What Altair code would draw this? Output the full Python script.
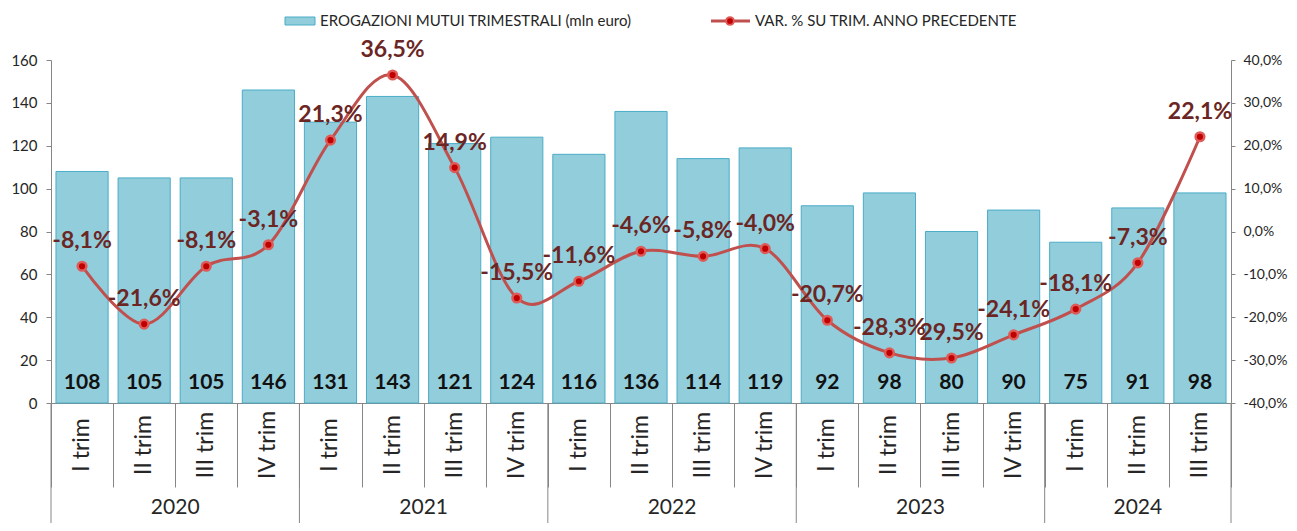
import altair as alt
import pandas as pd

# ---------------- data ----------------
years = ["2020"] * 4 + ["2021"] * 4 + ["2022"] * 4 + ["2023"] * 4 + ["2024"] * 3
quarters = ["I trim", "II trim", "III trim", "IV trim"] * 4 + ["I trim", "II trim", "III trim"]
erogazioni = [108, 105, 105, 146, 131, 143, 121, 124, 116, 136, 114, 119, 92, 98, 80, 90, 75, 91, 98]
var_pct = [-8.1, -21.6, -8.1, -3.1, 21.3, 36.5, 14.9, -15.5, -11.6, -4.6, -5.8, -4.0,
           -20.7, -28.3, -29.5, -24.1, -18.1, -7.3, 22.1]
pct_labels = ["-8,1%", "-21,6%", "-8,1%", "-3,1%", "21,3%", "36,5%", "14,9%", "-15,5%",
              "-11,6%", "-4,6%", "-5,8%", "-4,0%", "-20,7%", "-28,3%", "29,5%", "-24,1%",
              "-18,1%", "-7,3%", "22,1%"]
left_ticks = [0, 20, 40, 60, 80, 100, 120, 140, 160]
right_ticks = [-40, -30, -20, -10, 0, 10, 20, 30, 40]
legend_bar = "EROGAZIONI MUTUI TRIMESTRALI (mln euro)"
legend_line = "VAR. % SU TRIM. ANNO PRECEDENTE"

# ---------------- tables ----------------
n = len(quarters)
df = pd.DataFrame({
    "i": list(range(n)),
    "quarter": quarters,
    "year": years,
    "erog": erogazioni,
    "pct": var_pct,
    "pct_label": pct_labels,
})

year_rows = []
for y in dict.fromkeys(years):
    idx = [k for k, v in enumerate(years) if v == y]
    year_rows.append({"year": y, "start": idx[0], "end": idx[-1] + 1})
ydf = pd.DataFrame(year_rows)
bdf = pd.DataFrame({"b": list(ydf["start"]) + [n]})

# ---------------- style ----------------
W, H = 1180, 343
FONT = "Lato"
GREY = "#868686"
TXT = "#262626"
BAR_FILL = "#92CDDC"
BAR_STROKE = "#4BACC6"
LINE = "#C0504D"
PCT_TXT = "#6B2624"

xs = alt.Scale(domain=[0, n], nice=False, zero=False)
x_axis = alt.Axis(values=list(range(n + 1)), tickSize=84, labels=False, title=None, grid=False,
                  domainColor=GREY, tickColor=GREY, domainWidth=1, tickWidth=1)
left_scale = alt.Scale(domain=[0, 160], nice=False, zero=True)
left_axis = alt.Axis(values=left_ticks, orient="left", title=None, grid=False, tickSize=5,
                     labelPadding=9, domainColor=GREY, tickColor=GREY, labelColor=TXT,
                     labelFont=FONT, labelFontSize=15)
right_scale = alt.Scale(domain=[-40, 40], nice=False, zero=False)
right_axis = alt.Axis(values=right_ticks, orient="right", title=None, grid=False, tickSize=4,
                      labelPadding=8, domainColor=GREY, tickColor=GREY, labelColor=TXT,
                      labelFont=FONT, labelFontSize=14,
                      labelExpr="replace(replace(format(datum.value, '.1f'), '.', ','), '\u2212', '-') + '%'")

base = alt.Chart(df).transform_calculate(
    xc="datum.i + 0.5", x0="datum.i + 0.08", x1="datum.i + 0.92", zero="0"
)

bars = base.mark_bar(fill=BAR_FILL, stroke=BAR_STROKE, strokeWidth=1).encode(
    x=alt.X("x0:Q", scale=xs, axis=x_axis),
    x2="x1:Q",
    y=alt.Y("erog:Q", scale=left_scale, axis=left_axis),
    y2="zero:Q",
)
bar_text = base.mark_text(font=FONT, fontSize=21, fontWeight="bold", color="#111111",
                          baseline="middle", align="center").encode(
    x=alt.X("xc:Q", scale=xs, axis=x_axis),
    y=alt.value(H - 20),
    text="erog:Q",
)
left = alt.layer(bars, bar_text)

line = base.mark_line(color=LINE, strokeWidth=3, interpolate="cardinal").encode(
    x=alt.X("xc:Q", scale=xs, axis=x_axis),
    y=alt.Y("pct:Q", scale=right_scale, axis=right_axis),
)
pts = base.mark_circle(size=75, color="#C00000", opacity=1, stroke="#DE5B57", strokeWidth=2.5).encode(
    x=alt.X("xc:Q", scale=xs, axis=x_axis),
    y=alt.Y("pct:Q", scale=right_scale, axis=right_axis),
)
pct_text = base.mark_text(font=FONT, fontSize=23, fontWeight="bold", color=PCT_TXT,
                          baseline="middle", align="center", dy=-25).encode(
    x=alt.X("xc:Q", scale=xs, axis=x_axis),
    y=alt.Y("pct:Q", scale=right_scale, axis=right_axis),
    text="pct_label:N",
)
right = alt.layer(line, pts, pct_text)

# category labels below the axis
q_text = base.mark_text(font=FONT, fontSize=23, color=TXT, angle=270,
                        align="center", baseline="middle").encode(
    x=alt.X("xc:Q", scale=xs, axis=x_axis),
    y=alt.value(H + 42),
    text="quarter:N",
)
y_text = alt.Chart(ydf).transform_calculate(yc="(datum.start + datum.end) / 2").mark_text(
    font=FONT, fontSize=21, color=TXT, align="center", baseline="middle").encode(
    x=alt.X("yc:Q", scale=xs, axis=x_axis),
    y=alt.value(H + 105),
    text="year:N",
)
y_sep = alt.Chart(bdf).mark_rule(color=GREY, strokeWidth=1).encode(
    x=alt.X("b:Q", scale=xs, axis=x_axis),
    y=alt.value(H),
    y2=alt.value(H + 122),
)

# legend
one = alt.Data(values=[{"k": 0}])
leg_rect = alt.Chart(one).mark_rect(fill=BAR_FILL, stroke=BAR_STROKE, strokeWidth=1).encode(
    x=alt.value(234), x2=alt.value(264), y=alt.value(-43), y2=alt.value(-35))
leg_t1 = alt.Chart(one).mark_text(font=FONT, fontSize=15, color=TXT, align="left",
                                  baseline="middle").encode(
    x=alt.value(269), y=alt.value(-39), text=alt.value(legend_bar))
leg_line = alt.Chart(one).mark_rule(color=LINE, strokeWidth=3).encode(
    x=alt.value(660), x2=alt.value(699), y=alt.value(-39))
leg_pt = alt.Chart(one).mark_circle(size=60, color="#C00000", opacity=1, stroke="#DE5B57",
                                    strokeWidth=2).encode(x=alt.value(679), y=alt.value(-39))
leg_t2 = alt.Chart(one).mark_text(font=FONT, fontSize=15, color=TXT, align="left",
                                  baseline="middle").encode(
    x=alt.value(704), y=alt.value(-39), text=alt.value(legend_line))

deco = alt.layer(q_text, y_text, y_sep, leg_rect, leg_t1, leg_line, leg_pt, leg_t2)

chart = alt.layer(left, right, deco).resolve_scale(y="independent").properties(
    width=W, height=H,
    padding={"left": 43, "top": 52, "right": 58, "bottom": 120},
    autosize=alt.AutoSizeParams(type="none"),
).configure_view(strokeWidth=0)

chart.save("out.html", embed_options={"renderer": "svg", "actions": False})
